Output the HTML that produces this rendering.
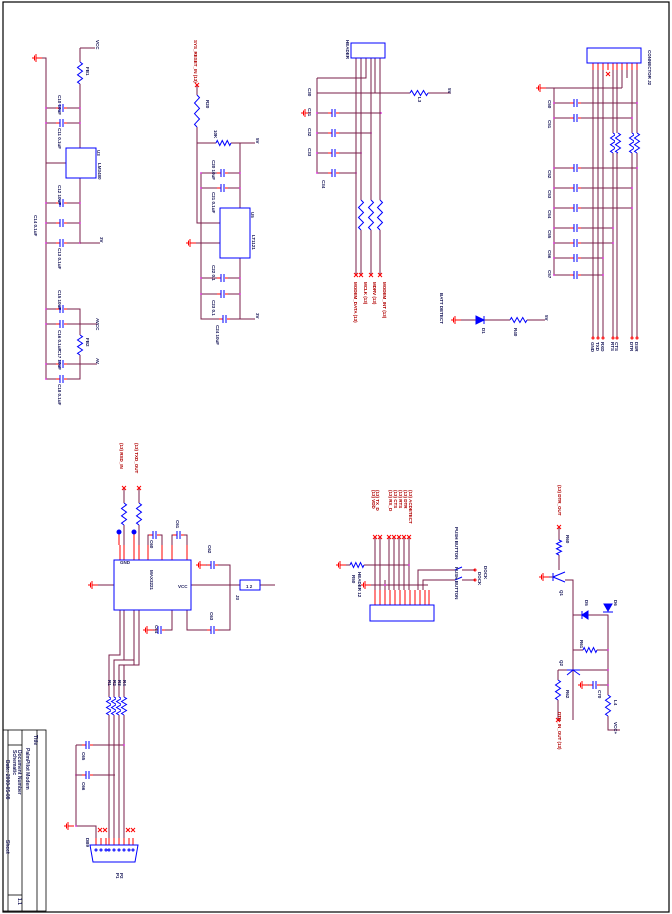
<!DOCTYPE html>
<html><head><meta charset="utf-8"><style>
html,body{margin:0;padding:0;background:#fff;width:672px;height:914px;overflow:hidden}
svg{display:block}
text{font-family:"Liberation Sans",sans-serif;font-weight:bold}
</style></head><body>
<svg id="s" width="672" height="914" viewBox="0 0 672 914" xmlns="http://www.w3.org/2000/svg">
<rect x="3" y="2" width="666" height="910" fill="none" stroke="#000" stroke-width="1.2"/>
<!-- title block -->
<g stroke="#000" stroke-width="0.8" fill="none">
<rect x="3" y="730" width="43" height="181"/>
<line x1="8" y1="730" x2="8" y2="911"/><line x1="22" y1="730" x2="22" y2="911"/><line x1="37" y1="730" x2="37" y2="911"/>
<line x1="8" y1="745" x2="22" y2="745"/><line x1="8" y1="895" x2="22" y2="895"/>
</g>
<g fill="#1a1a5a" font-size="5">
<text transform="translate(34,735) rotate(90)">Title</text>
<text transform="translate(26,748) rotate(90)">PalmPilot Modem</text>
<text transform="translate(18,750) rotate(90)">Document Number</text>
<text transform="translate(13,750) rotate(90)">Schematic</text>
<text transform="translate(6,760) rotate(90)">Date: 2000-05-08</text>
<text transform="translate(6,840) rotate(90)">Sheet</text>
<text transform="translate(18,898) rotate(90)">1.1</text>
</g>
<g id="w" stroke="#7a1f4a" stroke-width="1" fill="none"></g>
<g id="r" stroke="#ff0000" stroke-width="1" fill="none"></g>
<g id="b" stroke="#0000ff" stroke-width="1" fill="none"></g>
<g id="t" fill="#1a1a5a" font-size="4.5"></g>
<g fill="#b00000" font-size="4.5">
<text transform="translate(194,40) rotate(90)">SYS_RESET_IN  (13)</text>
<text transform="translate(354,282) rotate(90)">MODEM_DATA (13)</text>
<text transform="translate(364,282) rotate(90)">MCLK (13)</text>
<text transform="translate(373,282) rotate(90)">MDRV (13)</text>
<text transform="translate(383,282) rotate(90)">MODEM_INT (13)</text>
<text transform="translate(120,443) rotate(90)">(13) RXD_IN</text>
<text transform="translate(135,443) rotate(90)">(13) TXD_OUT</text>
<text transform="translate(372,490) rotate(90)">(13) VDD</text>
<text transform="translate(376,490) rotate(90)">(13) TX_D</text>
<text transform="translate(389,490) rotate(90)">(13) RX_D</text>
<text transform="translate(394,490) rotate(90)">(13) CTS</text>
<text transform="translate(399,490) rotate(90)">(13) RTS</text>
<text transform="translate(404,490) rotate(90)">(13) DTR</text>
<text transform="translate(409,490) rotate(90)">(13) ACDETECT</text>
<text transform="translate(558,485) rotate(90)">(13) DTR_OUT</text>
<text transform="translate(558,712) rotate(90)">DTR_IN_OUT (13)</text>
</g>
<g fill="#1a1a5a" font-size="4.5">
<text transform="translate(440,293) rotate(90)">BATT DETECT</text>
<text transform="translate(346,40) rotate(90)">HEADER</text>
<text transform="translate(648,50) rotate(90)">CONNECTOR J2</text>
<text transform="translate(98,163) rotate(90)">LM3480</text>
<text transform="translate(252,235) rotate(90)">LT1121</text>
<text transform="translate(150,570) rotate(90)">MAX3221</text>
<text transform="translate(358,572) rotate(90)">HEADER 12</text>
<text transform="translate(478,572) rotate(90)">DOCK</text>
<text transform="translate(120,564)">GND</text><text transform="translate(178,588)">VCC</text>
<text transform="translate(246,588)">1  2</text>
<text transform="translate(455,527) rotate(90)">PUSH BUTTON</text>
<text transform="translate(455,567) rotate(90)">PUSH BUTTON</text>
</g>
</svg>
<script>
var NS="http://www.w3.org/2000/svg";
function el(g,tag,a){var e=document.createElementNS(NS,tag);for(var k in a)e.setAttribute(k,a[k]);document.getElementById(g).appendChild(e);return e;}
function L(pts,g){el(g||"w","polyline",{points:pts});}
function dot(x,y){el("w","circle",{cx:x,cy:y,r:0.9,fill:"#e020e0",stroke:"none"});}
function capH(x,y){el("b","rect",{x:x-2,y:y-4,width:4,height:8,fill:"#fff",stroke:"none"});L((x-2)+","+(y-4)+" "+(x-2)+","+(y+4),"b");L((x+1)+","+(y-4)+" "+(x+1)+","+(y+4),"b");L((x-6)+","+y+" "+(x-2)+","+y,"r");L((x+1)+","+y+" "+(x+5)+","+y,"r");}
function capV(x,y){el("b","rect",{x:x-4,y:y-2,width:8,height:4,fill:"#fff",stroke:"none"});L((x-4)+","+(y-2)+" "+(x+4)+","+(y-2),"b");L((x-4)+","+(y+1)+" "+(x+4)+","+(y+1),"b");}
function resV(x,y1,y2){el("b","rect",{x:x-3,y:y1,width:6,height:y2-y1,fill:"#fff",stroke:"none"});var p=[],n=6,h=(y2-y1)/n;p.push(x+","+y1);for(var i=0;i<n;i++)p.push((x+(i%2?-2.5:2.5))+","+(y1+h*(i+.5)));p.push(x+","+y2);L(p.join(" "),"b");}
function resH(x1,x2,y){el("b","rect",{x:x1,y:y-3,width:x2-x1,height:6,fill:"#fff",stroke:"none"});var p=[],n=6,h=(x2-x1)/n;p.push(x1+","+y);for(var i=0;i<n;i++)p.push((x1+h*(i+.5))+","+(y+(i%2?2.5:-2.5)));p.push(x2+","+y);L(p.join(" "),"b");}
function gndL(x,y){L(x+","+y+" "+(x+6)+","+y,"r");L(x+","+(y-4)+" "+x+","+(y+4),"r");L((x-1.5)+","+(y-2.5)+" "+(x-1.5)+","+(y+2.5),"r");L((x-3)+","+(y-1)+" "+(x-3)+","+(y+1),"r");}
function X(x,y){L((x-2)+","+(y-2)+" "+(x+2)+","+(y+2),"r");L((x+2)+","+(y-2)+" "+(x-2)+","+(y+2),"r");}
function box(x,y,w,h){el("b","rect",{x:x,y:y,width:w,height:h,fill:"none"});}
function T(x,y,s,rot){var e=el("t","text",{transform:"translate("+x+","+y+")"+(rot?" rotate(90)":"")});e.textContent=s;}

/* ---- block 1 ---- */
gndL(36,58);L("36,58 46,58 46,379 80,379 80,309 46,309");
L("80,48 95,48");L("80,48 80,148");resV(80,62,84);
[108,123].forEach(function(y){L("46,"+y+" 80,"+y);capH(62,y);dot(46,y);dot(80,y);});
box(66,148,30,30);L("46,163 66,163");L("80,178 80,243");
[203,223,243].forEach(function(y){L("46,"+y+" 80,"+y);capH(62,y);dot(46,y);dot(80,y);});
L("80,243 100,243");
[309,324,364,379].forEach(function(y){L("46,"+y+" 80,"+y);capH(62,y);dot(46,y);});
L("80,324 97,324");L("80,364 97,364");resV(80,335,355);
T(58,95,"C10 10uF",1);T(58,128,"C11 0.1uF",1);T(58,185,"C12 10uF",1);T(58,248,"C13 0.1uF",1);T(34,215,"C14 0.1uF",1);
T(58,290,"C15 10uF",1);T(58,330,"C16 0.1uF",1);T(58,350,"C17 10uF",1);T(58,384,"C18 0.1uF",1);
T(86,67,"FB1",1);T(86,338,"FB2",1);T(97,150,"U3",1);T(96,40,"VCC",1);T(100,237,"3V",1);T(96,318,"AVCC",1);T(96,358,"AV",1);

/* ---- block 2 ---- */
X(197,85);L("197,85 197,223 220,223");resV(197,95,127);
L("197,143 255,143");resH(216,231,143);
L("240,143 240,208");L("201,173 201,319 255,319");L("240,258 240,319");
[173,188].forEach(function(y){L("201,"+y+" 240,"+y);capH(223,y);dot(201,y);dot(240,y);});
[278,294].forEach(function(y){L("201,"+y+" 240,"+y);capH(223,y);dot(201,y);dot(240,y);});
capH(225,319);box(220,208,30,50);gndL(190,243);L("196,243 220,243");
T(214,130,"10K",1);T(206,100,"R20",1);T(212,160,"C20 10uF",1);T(212,192,"C21 0.1uF",1);T(212,265,"C22 0.1",1);T(212,300,"C23 0.1",1);T(216,325,"C24 10uF",1);T(251,212,"U5",1);T(256,138,"5V",1);T(256,313,"3V",1);

/* ---- block 3 ---- */
box(351,43,34,15);
L("317,78 366,78 366,58");L("317,78 317,173");
gndL(305,113);
L("317,93 451,93");resH(410,428,93);L("375,58 375,93");
[[113,381],[133,371],[153,361],[173,356]].forEach(function(a){L("317,"+a[0]+" "+a[1]+","+a[0]);capH(334,a[0]);dot(317,a[0]);dot(a[1],a[0]);});
[356,361,371,380].forEach(function(x){L(x+",58 "+x+",275");X(x,275);});
resV(361,200,230);resV(371,200,230);resV(380,200,230);
T(308,88,"C30",1);T(308,108,"C31",1);T(308,128,"C32",1);T(308,148,"C33",1);T(322,180,"C34",1);T(418,97,"L3",1);T(448,88,"5V",1);

/* ---- diode ---- */
gndL(455,320);L("461,320 545,320");
el("b","polygon",{points:"476,316 476,324 484,320",fill:"#0000ff"});L("484,316 484,324","b");
resH(510,527,320);T(482,328,"D1",1);T(514,328,"R40",1);T(545,315,"5V",1);

/* ---- block 5 ---- */
box(587,48,54,15);
var px=[593,598,603,608,613,617,622,627,632,637];
px.forEach(function(x){L(x+",63 "+x+",70","r");});
[593,598,603,613,617,632,637].forEach(function(x){L(x+",63 "+x+",337");el("w","circle",{cx:x,cy:338,r:1,fill:"none",stroke:"#ff0000"});});
L("622,63 622,88");L("627,63 627,78");X(608,74);
gndL(540,88);L("546,88 622,88");L("554,88 554,275");
[[103,637],[118,632],[168,637],[188,632],[208,632],[228,613],[243,613],[258,603],[275,603]].forEach(function(a){L("554,"+a[0]+" "+a[1]+","+a[0]);capH(576,a[0]);dot(554,a[0]);dot(a[1],a[0]);});
resV(613,133,153);resV(618,133,153);resV(632,133,153);resV(637,133,153);
T(548,100,"C50",1);T(548,120,"C51",1);T(548,170,"C52",1);T(548,190,"C53",1);T(548,210,"C54",1);T(548,230,"C55",1);T(548,250,"C56",1);T(548,270,"C57",1);
[["GND",593],["TXD",598],["RXD",603],["RTS",613],["CTS",617],["DTR",632],["DSR",637]].forEach(function(a){T(a[1]-2,342,a[0],1);});

/* ---- bottom A ---- */
box(114,560,77,50);
[120,124,134,139,148,162,172,187].forEach(function(x){L(x+",545 "+x+",560","r");});
L("148,545 148,535 162,535 162,545");capH(155,535);
L("172,545 172,535 187,535 187,545");capH(179,535);
[124,139].forEach(function(x){X(x,488);L(x+",488 "+x+",545");resV(x,503,525);});
el("b","circle",{cx:119,cy:532,r:2,fill:"#0000ff"});el("b","circle",{cx:134,cy:532,r:2,fill:"#0000ff"});
L("119,532 119,545","r");L("134,532 134,545","r");
gndL(92,585);L("98,585 114,585");
L("191,585 240,585");box(240,580,20,10);L("260,585 275,585");
gndL(200,565);L("206,565 230,565 230,630 187,630 187,610");capH(213,565);capH(213,630);
gndL(147,630);L("153,630 172,630 172,610");capH(160,630);
L("120,610 120,655 109,655 109,845");L("124,610 124,660 114,660 114,845");
L("134,610 134,665 119,665 119,845");L("139,610 139,665 124,665 124,845");
L("134,610 134,660 115,660","w");
[109,114,119,124].forEach(function(x){resV(x,697,715);});
L("76,745 124,745");capH(88,745);dot(124,745);L("76,775 115,775");capH(88,775);dot(76,775);
L("76,745 76,826 96,826 96,840");gndL(68,826);dot(76,826);
el("b","polygon",{points:"90,845 138,845 135,862 93,862",fill:"none"});
[96,101,106,109,114,119,124,129,133].forEach(function(x){L(x+",838 "+x+",845","r");el("b","circle",{cx:x,cy:850,r:1,fill:"none"});});
X(100,830);X(105,830);X(128,830);X(133,830);
T(150,540,"C60",1);T(176,520,"C61",1);T(208,545,"C62",1);T(210,612,"C63",1);T(155,625,"C64",1);T(236,595,"J3",1);
T(108,680,"R1",1);T(113,680,"R2",1);T(118,680,"R3",1);T(123,680,"R4",1);T(82,752,"C65",1);T(82,782,"C66",1);T(86,838,"DB9",1);
T(116,873,"P1",1);T(120,873,"P2",1);

/* ---- bottom B ---- */
box(370,605,64,16);
[375,380,385,390,395,400,405,410,415,420,425,429].forEach(function(x){L(x+",590 "+x+",605","r");});
[375,380,389,394,399,404,409].forEach(function(x){L(x+",537 "+x+",590");X(x,537);});
gndL(340,565);L("346,565 409,565");resH(350,364,565);dot(409,565);
gndL(365,585);L("371,585 428,585");L("385,580 385,590");dot(385,585);
L("418,590 418,570 455,570");L("423,590 423,580 455,580");
L("455,570 462,567","b");L("455,580 462,577","b");L("462,570 475,570");L("462,580 475,580");
el("w","circle",{cx:475,cy:570,r:1,fill:"none",stroke:"#ff0000"});el("w","circle",{cx:475,cy:580,r:1,fill:"none",stroke:"#ff0000"});
T(352,575,"R50",1);T(484,566,"DOCK",1);

/* ---- bottom C ---- */
X(559,527);L("559,527 559,570");resV(559,540,555);
gndL(543,577);L("549,577 553,577");
L("553,573 553,581","b");L("553,577 565,572","b");L("553,577 565,582","b");
L("565,580 573,580 573,720");L("573,615 608,615 608,730 620,730");
el("b","polygon",{points:"588,611 588,619 582,615",fill:"#0000ff"});L("582,611 582,619","b");
el("b","polygon",{points:"604,604 612,604 608,611",fill:"#0000ff"});L("603,612 613,612","b");
L("573,650 608,650");resH(583,597,650);dot(608,650);
L("573,660 573,667");L("567,670 580,670","b");L("573,670 567,675","b");L("573,670 580,675","b");
L("558,670 567,670");L("580,670 608,670");dot(608,670);
L("558,670 558,720");resV(558,680,700);X(558,720);
gndL(582,685);L("588,685 608,685");capH(595,685);dot(608,685);
resV(608,695,716);
T(566,535,"R60",1);T(560,590,"Q1",1);T(585,600,"D5",1);T(614,600,"D6",1);T(580,640,"R61",1);T(560,660,"Q2",1);T(566,690,"R62",1);T(598,690,"C70",1);T(614,700,"L4",1);T(614,722,"VCC+",1);
</script>
</body></html>
